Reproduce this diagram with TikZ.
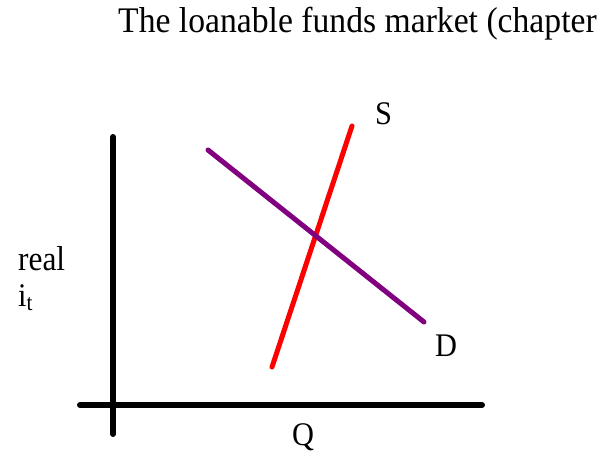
\documentclass[tikz,border=0pt]{standalone}
\usepackage{graphicx}
\usepackage{fontspec}
\setmainfont{Liberation Serif}
\definecolor{dpurple}{RGB}{128,0,128}
\newcommand{\narrow}[1]{\scalebox{0.92}[1]{#1}}
\begin{document}
\begin{tikzpicture}[x=1pt,y=-1pt,
  axis/.style={line width=6pt,line cap=round,black},
  curve/.style={line width=5pt,line cap=round},
  lbl/.style={font=\fontsize{33}{33}\selectfont,inner sep=0pt,anchor=base west}]
\useasboundingbox (0,0) rectangle (607,458);
\node[font=\fontsize{36}{36}\selectfont,inner sep=0pt,anchor=base west] (title) at (118,32) {\scalebox{0.935}[1]{The loanable funds market (chapter}};
\coordinate (ytop) at (113,137);
\coordinate (ybot) at (113,434);
\coordinate (xl) at (80,405);
\coordinate (xr) at (482,405);
\draw[axis] (ytop) -- (ybot);
\draw[axis] (xl) -- (xr);
\coordinate (s1) at (272,367);
\coordinate (s2) at (352,126);
\coordinate (d1) at (208,150);
\coordinate (d2) at (424,322);
\draw[curve,red] (s1) -- (s2);
\draw[curve,dpurple] (d1) -- (d2);
\node[lbl] (S) at (375,124) {\narrow{S}};
\node[lbl] (D) at (435,356) {\narrow{D}};
\node[lbl] (Q) at (292,445) {\narrow{Q}};
\node[lbl] (real) at (18,270) {\scalebox{0.95}[1.05]{real}};
\node[lbl] (i) at (18,306) {\narrow{i\textsubscript{t}}};
\end{tikzpicture}
\end{document}
